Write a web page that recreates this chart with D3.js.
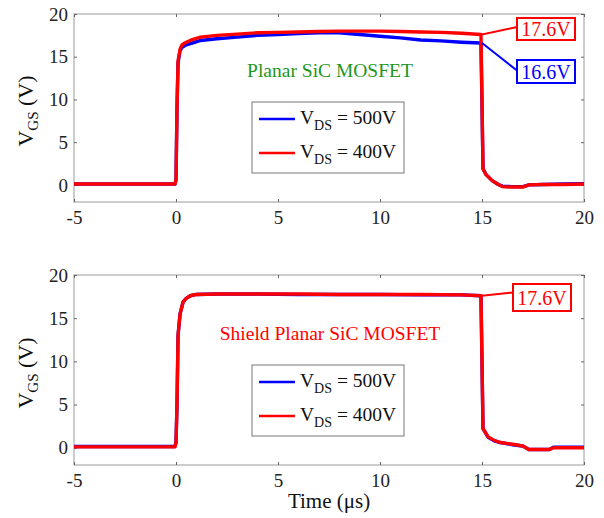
<!DOCTYPE html>
<html>
<head>
<meta charset="utf-8">
<script src="https://cdn.jsdelivr.net/npm/d3@7"></script>
<style>
  html, body { margin: 0; padding: 0; background: #fff; }
  svg { display: block; }
  text { font-family: "Liberation Serif", "Times New Roman", serif; }
</style>
</head>
<body>
<svg id="chart" width="604" height="518"></svg>
<script>
// ---------- DATA ----------
const xTicks = [-5, 0, 5, 10, 15, 20];
const yTicks = [0, 5, 10, 15, 20];

// Top panel: Planar SiC MOSFET
const topT500 = [-5, -3, -1, -0.05, 0, 0.05, 0.1, 0.2, 0.3, 0.5, 0.8, 1.2, 2, 3, 4, 5, 6, 7, 8, 9, 10, 11, 12, 13, 14, 14.95, 15.05, 15.2, 15.5, 15.8, 16, 16.5, 17, 17.3, 18, 19, 20];
const topV500 = [0.1, 0.1, 0.1, 0.1, 0.6, 9, 14.3, 15.7, 16.1, 16.4, 16.6, 16.9, 17.1, 17.3, 17.5, 17.6, 17.7, 17.8, 17.8, 17.6, 17.4, 17.2, 16.95, 16.85, 16.7, 16.6, 1.9, 1.2, 0.5, 0.05, -0.15, -0.2, -0.2, 0.0, 0.05, 0.1, 0.15];
const topT400 = [-5, -3, -1, -0.05, 0, 0.05, 0.1, 0.2, 0.3, 0.5, 0.8, 1.2, 2, 3, 4, 5, 6, 7, 8, 9, 10, 11, 12, 13, 14, 14.95, 15.05, 15.2, 15.5, 15.8, 16, 16.5, 17, 17.3, 18, 19, 20];
const topV400 = [0.1, 0.1, 0.1, 0.1, 0.6, 9, 14.5, 15.9, 16.4, 16.7, 17.0, 17.3, 17.5, 17.65, 17.8, 17.85, 17.9, 17.95, 18.0, 18.0, 18.0, 17.95, 17.9, 17.85, 17.75, 17.6, 1.9, 1.2, 0.5, 0.05, -0.2, -0.25, -0.25, 0.0, 0.05, 0.05, 0.1];

// Bottom panel: Shield Planar SiC MOSFET
const botT500 = [-5, -3, -1, -0.05, 0, 0.05, 0.1, 0.2, 0.35, 0.5, 0.7, 1, 2, 4, 6, 8, 10, 12, 14, 14.95, 15.05, 15.3, 15.6, 15.9, 16.5, 17, 17.3, 18.3, 18.5, 20];
const botV500 = [0.15, 0.15, 0.15, 0.15, 0.6, 5, 13, 15.5, 16.9, 17.3, 17.6, 17.75, 17.8, 17.8, 17.75, 17.75, 17.75, 17.7, 17.7, 17.6, 2.2, 1.2, 0.8, 0.6, 0.35, 0.2, -0.2, -0.2, 0.05, 0.05];
const botT400 = [-5, -3, -1, -0.05, 0, 0.05, 0.1, 0.2, 0.35, 0.5, 0.7, 1, 2, 4, 6, 8, 10, 12, 14, 14.95, 15.05, 15.3, 15.6, 15.9, 16.5, 17, 17.3, 18.3, 18.5, 20];
const botV400 = [0.1, 0.1, 0.1, 0.1, 0.6, 5, 13, 15.5, 16.9, 17.3, 17.6, 17.75, 17.8, 17.8, 17.8, 17.75, 17.75, 17.75, 17.7, 17.6, 2.2, 1.25, 0.85, 0.6, 0.4, 0.2, -0.2, -0.2, 0.0, 0.0];

const legendLabels = ["500V", "400V"];
const seriesColors = ["#0000ff", "#ff0000"];

// ---------- DRAW ----------
const svg = d3.select("#chart");
const x = d3.scaleLinear().domain([-5, 20]).range([74, 584]);
const fmt = d => String(d);

function zip(t, v) { return t.map((d, i) => [d, v[i]]); }

function panel(opts) {
  const y = d3.scaleLinear().domain([-2, 20]).range([opts.bottom, opts.top]);
  const g = svg.append("g");

  // frame
  g.append("rect").attr("x", 74).attr("y", opts.top).attr("width", 510)
    .attr("height", opts.bottom - opts.top).attr("fill", "none")
    .attr("stroke", "#9a9a9a").attr("stroke-width", 1);

  const axStyle = sel => {
    sel.select(".domain").remove();
    sel.selectAll("line").attr("stroke", "#666");
    sel.selectAll("text").attr("fill", "#222").style("font-size", "19px")
      .style("font-family", '"Liberation Serif", serif');
  };
  g.append("g").attr("transform", `translate(0,${opts.bottom})`)
    .call(d3.axisBottom(x).tickValues(xTicks).tickSize(-3).tickPadding(9).tickFormat(fmt))
    .call(axStyle);
  g.append("g").attr("transform", `translate(0,${opts.top})`)
    .call(d3.axisTop(x).tickValues(xTicks).tickSize(-3).tickFormat(""))
    .call(axStyle);
  g.append("g").attr("transform", `translate(74,0)`)
    .call(d3.axisLeft(y).tickValues(yTicks).tickSize(-3).tickPadding(6).tickFormat(fmt))
    .call(axStyle);
  g.append("g").attr("transform", `translate(584,0)`)
    .call(d3.axisRight(y).tickValues(yTicks).tickSize(-3).tickFormat(""))
    .call(axStyle);

  // y label
  const yl = g.append("text")
    .attr("transform", `translate(33,${(y(20) + y(-2)) / 2 + 3}) rotate(-90)`)
    .attr("text-anchor", "middle").style("font-size", "22px").attr("fill", "#111");
  yl.append("tspan").text("V");
  yl.append("tspan").text("GS").style("font-size", "15px").attr("dy", 5);
  yl.append("tspan").text(" (V)").attr("dy", -5);

  const line = d3.line().x(d => x(d[0])).y(d => y(d[1]));
  g.append("path").datum(zip(opts.t500, opts.v500)).attr("d", line)
    .attr("fill", "none").attr("stroke", seriesColors[0]).attr("stroke-width", 3.4)
    .attr("stroke-linejoin", "round");
  g.append("path").datum(zip(opts.t400, opts.v400)).attr("d", line)
    .attr("fill", "none").attr("stroke", seriesColors[1]).attr("stroke-width", 3.4)
    .attr("stroke-linejoin", "round");

  // title text
  g.append("text").attr("x", 330).attr("y", opts.titleY).attr("text-anchor", "middle")
    .style("font-size", "19.5px").attr("fill", opts.titleColor).text(opts.title);

  // legend
  const lg = g.append("g");
  lg.append("rect").attr("x", 252).attr("y", opts.legY).attr("width", 152).attr("height", 71)
    .attr("fill", "#fff").attr("stroke", "#777").attr("stroke-width", 1);
  legendLabels.forEach((lab, i) => {
    const ly = opts.legY + 17 + i * 34;
    lg.append("line").attr("x1", 259).attr("x2", 295).attr("y1", ly).attr("y2", ly)
      .attr("stroke", seriesColors[i]).attr("stroke-width", 2.5);
    const tx = lg.append("text").attr("x", 300).attr("y", ly + 5).style("font-size", "19.5px").attr("fill", "#111");
    tx.append("tspan").text("V");
    tx.append("tspan").text("DS").style("font-size", "14px").attr("dy", 6);
    tx.append("tspan").text(" = " + lab).attr("dy", -6);
  });

  // annotations
  opts.notes.forEach(n => {
    const ax = x(15), ay = y(n.value);
    g.append("line").attr("x1", ax).attr("y1", ay).attr("x2", n.bx).attr("y2", n.by + n.bh / 2 - (n.tilt || 0))
      .attr("stroke", n.color).attr("stroke-width", 2);
    g.append("rect").attr("x", n.bx).attr("y", n.by).attr("width", 58).attr("height", n.bh)
      .attr("fill", "#fff").attr("stroke", n.color).attr("stroke-width", 2);
    g.append("text").attr("x", n.bx + 29).attr("y", n.by + n.bh / 2 + 7).attr("text-anchor", "middle")
      .style("font-size", "20px").attr("fill", n.color).text(n.value.toFixed(1) + "V");
  });
}

panel({
  top: 14, bottom: 202,
  t500: topT500, v500: topV500, t400: topT400, v400: topV400,
  title: "Planar SiC MOSFET", titleColor: "#1e961e", titleY: 77,
  legY: 102,
  notes: [
    { value: 17.6, color: "#ff0000", bx: 517, by: 18, bh: 22, tilt: 2 },
    { value: 16.6, color: "#0000ff", bx: 517, by: 60, bh: 23, tilt: 1 }
  ]
});

panel({
  top: 275, bottom: 465,
  t500: botT500, v500: botV500, t400: botT400, v400: botV400,
  title: "Shield Planar SiC MOSFET", titleColor: "#ff0000", titleY: 340,
  legY: 365,
  notes: [
    { value: 17.6, color: "#ff0000", bx: 513, by: 284, bh: 27, tilt: 5 }
  ]
});

svg.append("text").attr("x", 329).attr("y", 508).attr("text-anchor", "middle")
  .style("font-size", "21px").attr("fill", "#111").text("Time (μs)");
</script>
</body>
</html>
